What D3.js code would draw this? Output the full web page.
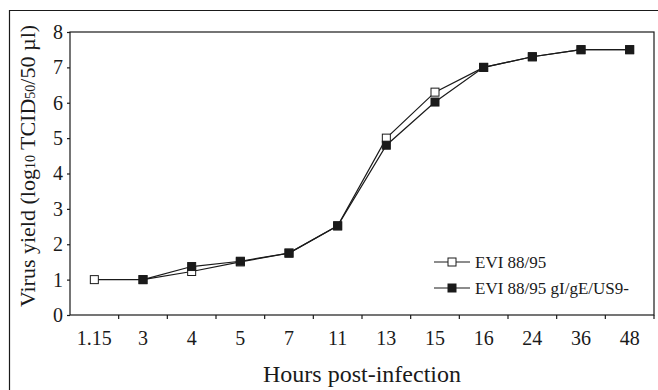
<!DOCTYPE html>
<html>
<head>
<meta charset="utf-8">
<script src="https://cdn.jsdelivr.net/npm/d3@7"></script>
<style>
  body { margin: 0; background: #fff; }
  svg text { font-family: "Liberation Serif", "Times New Roman", serif; fill: #1a1a1a; }
</style>
</head>
<body>
<svg id="chart" width="658" height="390"></svg>
<script>
const hours = ['1.15', '3', '4', '5', '7', '11', '13', '15', '16', '24', '36', '48'];
const wildType = [1.0, 1.0, 1.23, 1.5, 1.75, 2.52, 5.0, 6.3, 7.0, 7.3, 7.5, 7.5];
const mutant = [null, 1.0, 1.37, 1.52, 1.75, 2.52, 4.8, 6.02, 7.0, 7.3, 7.5, 7.5];
const yTicks = [0, 1, 2, 3, 4, 5, 6, 7, 8];

const svg = d3.select('#chart');
const margin = { left: 70, top: 32, right: 654, bottom: 315 };
const ink = '#1a1a1a';

// outer frame (runs off the right and bottom edge)
svg.append('path')
    .attr('d', 'M9.5,400 L9.5,10.5 L670,10.5')
    .attr('fill', 'none')
    .attr('stroke', ink)
    .attr('stroke-width', 1.2);

const x = d3.scaleBand().domain(hours).range([margin.left, margin.right]);
const y = d3.scaleLinear().domain([0, 8]).range([margin.bottom, margin.top]);

// plot box
svg.append('rect')
    .attr('x', margin.left)
    .attr('y', margin.top)
    .attr('width', margin.right - margin.left)
    .attr('height', margin.bottom - margin.top)
    .attr('fill', 'none')
    .attr('stroke', ink)
    .attr('stroke-width', 1.2);

// y axis
const yAxis = svg.append('g')
    .attr('transform', `translate(${margin.left},0)`)
    .call(d3.axisLeft(y).tickValues(yTicks).tickSize(3).tickPadding(4).tickFormat(d3.format('d')));
yAxis.select('.domain').remove();
yAxis.selectAll('line').attr('stroke', ink).attr('stroke-width', 1.2);
yAxis.selectAll('text').attr('font-size', 20).attr('fill', ink);

// x axis: ticks between categories
const xAxis = svg.append('g')
    .attr('transform', `translate(0,${margin.bottom})`)
    .call(d3.axisBottom(x).tickSize(0).tickPadding(16));
xAxis.select('.domain').remove();
xAxis.selectAll('text').attr('font-size', 20).attr('fill', ink);
xAxis.selectAll('.sep')
    .data(hours.slice(1).concat(['end']))
    .enter()
    .append('line')
    .attr('class', 'sep')
    .attr('x1', (d, i) => margin.left + (i + 1) * x.step())
    .attr('x2', (d, i) => margin.left + (i + 1) * x.step())
    .attr('y1', 0)
    .attr('y2', 4)
    .attr('stroke', ink)
    .attr('stroke-width', 1.2);

// axis titles
svg.append('text')
    .attr('x', 362)
    .attr('y', 382)
    .attr('text-anchor', 'middle')
    .attr('font-size', 24)
    .text('Hours post-infection');

const yTitle = svg.append('text')
    .attr('transform', `translate(35,166) rotate(-90)`)
    .attr('text-anchor', 'middle')
    .attr('font-size', 22);
yTitle.append('tspan').text('Virus yield (log');
yTitle.append('tspan').attr('font-size', 14).text('10');
yTitle.append('tspan').text(' TCID');
yTitle.append('tspan').attr('font-size', 14).text('50');
yTitle.append('tspan').text('/50 µl)');

// series
const line = d3.line()
    .defined(d => d != null)
    .x((d, i) => x(hours[i]) + x.bandwidth() / 2)
    .y(d => y(d));

const series = [
    { name: 'EVI 88/95', values: wildType, fill: '#fff' },
    { name: 'EVI 88/95 gI/gE/US9-', values: mutant, fill: ink }
];

series.forEach(s => {
    svg.append('path')
        .attr('d', line(s.values))
        .attr('fill', 'none')
        .attr('stroke', ink)
        .attr('stroke-width', 1.2);
});

series.forEach(s => {
    svg.selectAll(null)
        .data(s.values.map((v, i) => ({ v, h: hours[i] })).filter(d => d.v != null))
        .enter()
        .append('rect')
        .attr('x', d => x(d.h) + x.bandwidth() / 2 - 4)
        .attr('y', d => y(d.v) - 4)
        .attr('width', 8)
        .attr('height', 8)
        .attr('fill', s.fill)
        .attr('stroke', ink)
        .attr('stroke-width', 1);
});

// legend
const legend = svg.append('g').attr('transform', 'translate(434,262)');
series.forEach((s, i) => {
    const g = legend.append('g').attr('transform', `translate(0,${i * 26})`);
    g.append('line').attr('x1', 0).attr('x2', 36).attr('stroke', ink).attr('stroke-width', 1.2);
    g.append('rect').attr('x', 14).attr('y', -4).attr('width', 8).attr('height', 8)
        .attr('fill', s.fill).attr('stroke', ink).attr('stroke-width', 1);
    g.append('text').attr('x', 41).attr('y', 6).attr('font-size', 17).text(s.name);
});
</script>
</body>
</html>
